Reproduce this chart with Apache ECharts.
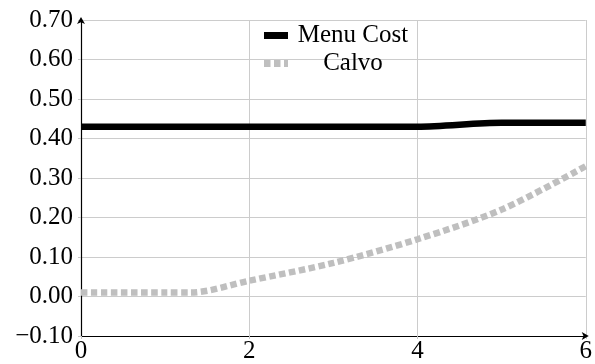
<!DOCTYPE html>
<html>
<head>
<meta charset="utf-8">
<script src="https://cdn.jsdelivr.net/npm/echarts@6/dist/echarts.min.js"></script>
<style>
html,body{margin:0;padding:0;background:#fff;}
#chart{width:595px;height:364px;}
</style>
</head>
<body>
<div id="chart"></div>
<script>
// Data
const seriesNames = ['Menu Cost', 'Calvo'];
const menuCostX = [0, 1, 2, 3, 4, 5, 6];
const menuCostY = [0.43, 0.43, 0.43, 0.43, 0.43, 0.44, 0.44];
const calvoX = [0, 1, 1.3, 2, 3, 4, 5, 6];
const calvoY = [0.01, 0.01, 0.01, 0.04, 0.085, 0.145, 0.22, 0.33];
const xTicks = [0, 2, 4, 6];
const yMin = -0.10, yMax = 0.70, yStep = 0.10;

const FONT = '"Liberation Serif", "Times New Roman", serif';
const FS = 25;

function pairs(xs, ys) { return xs.map((x, i) => [x, ys[i]]); }

const chart = echarts.init(document.getElementById('chart'), null, {renderer: 'canvas'});
chart.setOption({
  animation: false,
  backgroundColor: '#ffffff',
  grid: {left: 81, right: 8, top: 20, bottom: 27, containLabel: false},
  legend: {
    orient: 'vertical',
    left: 259,
    top: 18,
    itemWidth: 24,
    itemHeight: 7,
    itemGap: 3,
    data: [
      {name: seriesNames[0], icon: 'rect'},
      {name: seriesNames[1], icon: 'path://M0,0h6.5v7h-6.5z M10,0h6.5v7h-6.5z M20,0h4v7h-4z'}
    ],
    formatter: name => '{t|' + name + '}',
    textStyle: {
      fontFamily: FONT, fontSize: FS, color: '#000',
      rich: {t: {fontFamily: FONT, fontSize: FS, color: '#000', width: 120, align: 'center', lineHeight: 27}}
    }
  },
  xAxis: {
    type: 'value',
    min: xTicks[0], max: xTicks[xTicks.length - 1], interval: 2,
    axisLine: {show: true, onZero: false, lineStyle: {color: '#000', width: 1.2},
      symbol: ['none', 'arrow'], symbolSize: [6, 7], symbolOffset: [0, 3]},
    axisTick: {show: true, length: 3, inside: false, lineStyle: {color: '#c8c8c8'}},
    axisLabel: {fontFamily: FONT, fontSize: FS, color: '#000', margin: 3,
      formatter: v => String(v)},
    splitLine: {show: true, lineStyle: {color: '#cccccc', width: 1}}
  },
  yAxis: {
    type: 'value',
    min: yMin, max: yMax, interval: yStep,
    axisLine: {show: true, onZero: false, lineStyle: {color: '#000', width: 1.2},
      symbol: ['none', 'arrow'], symbolSize: [6, 7], symbolOffset: [0, 3]},
    axisTick: {show: true, length: 3, lineStyle: {color: '#c8c8c8'}},
    axisLabel: {fontFamily: FONT, fontSize: FS, color: '#000', margin: 8,
      formatter: v => { const s = Math.abs(v).toFixed(2); return (v < -1e-9 ? '\u2212' : '') + s; }},
    splitLine: {show: true, lineStyle: {color: '#cccccc', width: 1}}
  },
  series: [
    {
      name: seriesNames[0], type: 'line', data: pairs(menuCostX, menuCostY),
      symbol: 'none', smooth: 0.3,
      lineStyle: {color: '#000000', width: 6.5, cap: 'butt'},
      itemStyle: {color: '#000000'}, z: 3
    },
    {
      name: seriesNames[1], type: 'line', data: pairs(calvoX, calvoY),
      symbol: 'none', smooth: 0.3,
      lineStyle: {color: '#bfbfbf', width: 6.5, type: [6.5, 3.5], cap: 'butt'},
      itemStyle: {color: '#bfbfbf'}, z: 2
    }
  ]
});
</script>
</body>
</html>
